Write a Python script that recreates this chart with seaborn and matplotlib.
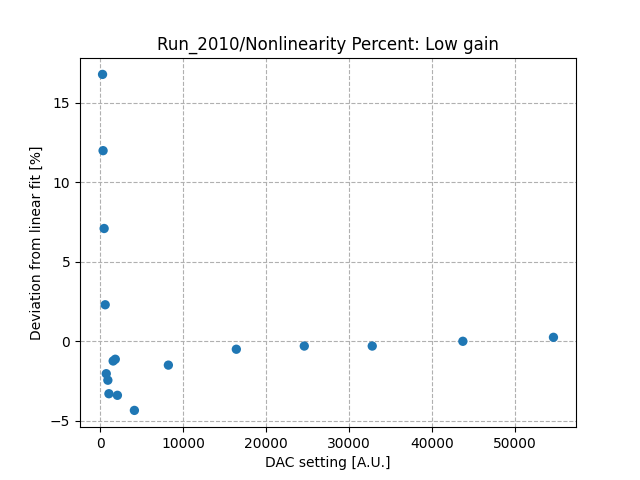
import numpy as np
import pandas as pd
import seaborn as sns
import matplotlib
matplotlib.use("Agg")
import matplotlib.pyplot as plt

# Data
dac = [256, 320, 448, 576, 704, 896, 1024, 1536, 1792, 2048, 4096,
       8192, 16384, 24576, 32768, 43690, 54613]
deviation = [16.8, 12.0, 7.1, 2.3, -2.04, -2.45, -3.3, -1.24, -1.13, -3.4, -4.35,
             -1.5, -0.5, -0.3, -0.3, 0.0, 0.25]

df = pd.DataFrame({"dac": dac, "dev": deviation})

plt.style.use("default")
fig, ax = plt.subplots(figsize=(6.4, 4.8), dpi=100)
sns.scatterplot(x="dac", y="dev", data=df, ax=ax, color="#1f77b4",
                s=45, edgecolor="none", zorder=3)
ax.grid(True, linestyle="--", color="#b0b0b0")
ax.set_axisbelow(True)
ax.set_title("Run_2010/Nonlinearity Percent: Low gain")
ax.set_xlabel("DAC setting [A.U.]")
ax.set_ylabel("Deviation from linear fit [%]")
fig.savefig("out.png")
